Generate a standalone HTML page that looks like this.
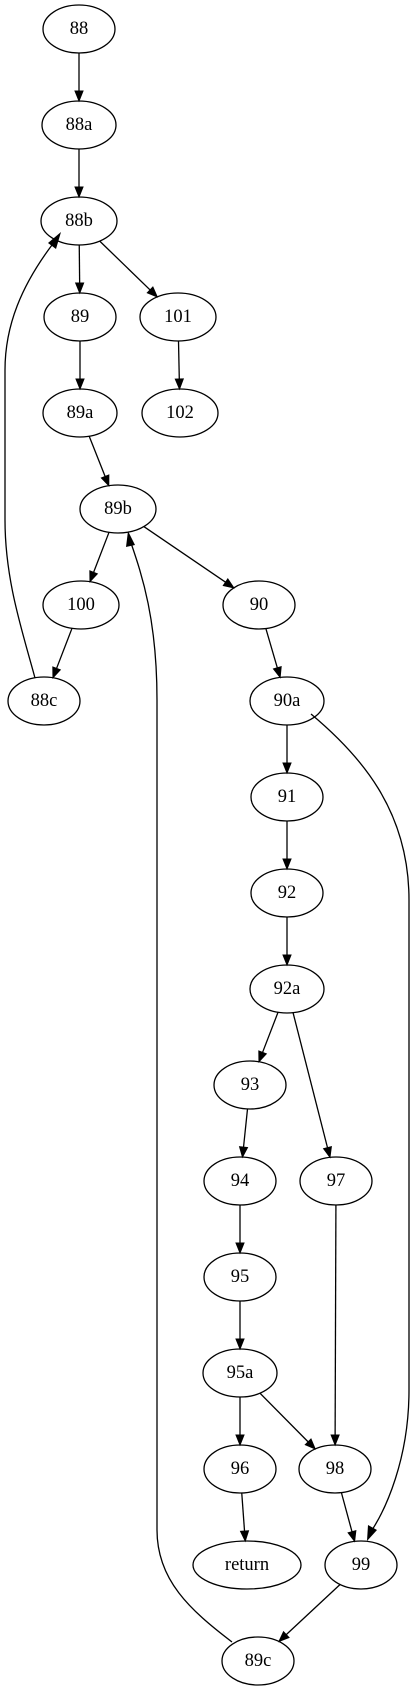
<!DOCTYPE html>
<html><head><meta charset="utf-8"><style>
html,body{margin:0;padding:0;background:#fff;width:415px;height:1691px;overflow:hidden}
text{font-family:"Liberation Serif",serif;font-size:18.5px;text-anchor:middle;dominant-baseline:central}
</style></head><body>
<svg id="s" width="415" height="1691" viewBox="0 0 415 1691" xmlns="http://www.w3.org/2000/svg">
<g id="e" stroke="#000" stroke-width="1.3" fill="none">
<path d="M35,678 C22,630 5,580 5,520 L5,370 C5,325 22,285 52,245"/>
<path d="M232,1642 C190,1610 157,1580 157,1530 L157,700 C157,620 142,575 131,543"/>
<path d="M311,714 C360,755 409,810 409,900 L409,1390 C409,1460 385,1510 372,1530"/>
</g>
<g fill="#000">
<polygon points="61,232 56,249 48,243"/>
<polygon points="128,531 135,545 126,547"/>
<polygon points="367,1541 368,1525 377,1530"/>
</g>
<g id="n" stroke="#000" stroke-width="1.3" fill="none"></g>
<g id="t"></g>
</svg>
<script>
var N={
"88":[79,29,36],"88a":[79,125,37],"88b":[79,221,38],"89":[80,317,36],"101":[178,317,38],
"89a":[80,413,37],"102":[180,413,38],"89b":[118,509,38],"100":[81,605,38],"90":[259,605,36],
"88c":[44,701,36],"90a":[287,701,37],"91":[287,797,36],"92":[287,893,36],"92a":[287,989,37],
"93":[250,1085,36],"94":[240,1181,36],"97":[336,1181,36],"95":[240,1277,36],"95a":[240,1373,37],
"96":[240,1469,36],"98":[335,1469,36],"return":[247,1565,54],"99":[361,1565,36],"89c":[258,1661,36]};
var RY=24;
var E=[["88","88a"],["88a","88b"],["88b","89"],["88b","101"],["101","102"],["89","89a"],["89a","89b"],
["89b","100"],["89b","90"],["100","88c"],["90","90a"],["90a","91"],["91","92"],["92","92a"],["92a","93"],
["92a","97"],["93","94"],["94","95"],["95","95a"],["95a","96"],["95a","98"],["97","98"],["96","return"],
["98","99"],["99","89c"]];
var ns="http://www.w3.org/2000/svg",s=document.getElementById("s"),eg=document.getElementById("e"),
ng=document.getElementById("n"),tg=document.getElementById("t");
function el(t,a,p){var e=document.createElementNS(ns,t);for(var k in a)e.setAttribute(k,a[k]);p.appendChild(e);return e;}
function clip(n,dx,dy){var a=n[2],b=RY;var t=1/Math.sqrt(dx*dx/(a*a)+dy*dy/(b*b));return [n[0]+dx*t,n[1]+dy*t];}
E.forEach(function(p){var A=N[p[0]],B=N[p[1]];var dx=B[0]-A[0],dy=B[1]-A[1];
var s1=clip(A,dx,dy),e1=clip(B,-dx,-dy);var L=Math.hypot(e1[0]-s1[0],e1[1]-s1[1]);var ux=(e1[0]-s1[0])/L,uy=(e1[1]-s1[1])/L;
var bx=e1[0]-ux*10,by=e1[1]-uy*10;
el("line",{x1:s1[0],y1:s1[1],x2:bx,y2:by},eg);
el("polygon",{points:e1[0]+","+e1[1]+" "+(bx-uy*4)+","+(by+ux*4)+" "+(bx+uy*4)+","+(by-ux*4),fill:"#000",stroke:"#000","stroke-width":1},eg);});
for(var k in N){var n=N[k];el("ellipse",{cx:n[0],cy:n[1],rx:n[2],ry:RY},ng);var t=el("text",{x:n[0],y:n[1]},tg);t.textContent=k;}
</script>
</body></html>
